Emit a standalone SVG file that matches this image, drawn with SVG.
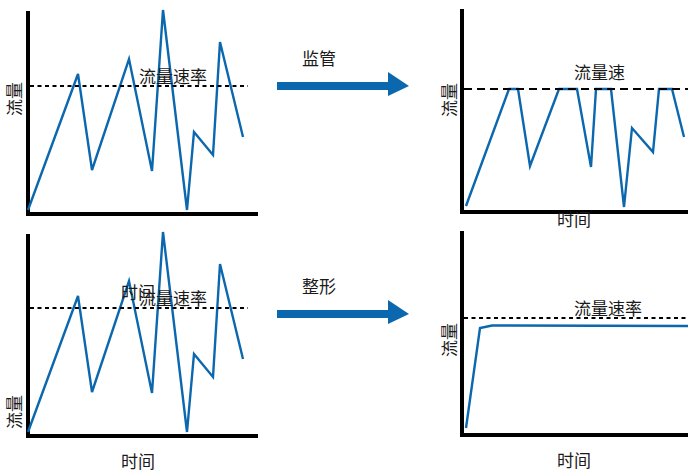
<svg xmlns="http://www.w3.org/2000/svg" width="688" height="473" viewBox="0 0 688 473">
<defs>
<style>
.axis{fill:none;stroke:#000;stroke-width:4;stroke-linecap:square}
.data{fill:none;stroke:#0b67ae;stroke-width:2.4;stroke-linejoin:miter}
.dash{fill:none;stroke:#000;stroke-width:2;stroke-dasharray:4 3.5}
.dash2{fill:none;stroke:#000;stroke-width:2;stroke-dasharray:8 5}
.t{font-family:"Noto Sans CJK SC","Noto Sans",sans-serif;font-size:17px;fill:#1a1a1a}
.arr{fill:#0b67ae}
</style>
</defs>
<rect width="688" height="473" fill="#fff"/>
<g id="chart-top-left">
<path class="axis" d="M28,13 V214 H256"/>
<polyline class="data" points="28,210 78,74 92,170 129,59 152,171 163,10 187,210 194,132 213,155 220,42 243,137"/>
<line class="dash" x1="30" y1="86" x2="248" y2="86"/>
<text class="t" x="139" y="83">流量速率</text>
<text class="t" transform="translate(21,99) rotate(-90)" text-anchor="middle">流量</text>
</g>
<g id="chart-bottom-left">
<path class="axis" d="M28,236 V436 H256"/>
<polyline class="data" points="28,432 78,296 92,392 129,281 152,393 163,232 187,432 194,354 213,377 220,264 243,359"/>
<line class="dash" x1="30" y1="308" x2="248" y2="308"/>
<text class="t" x="121" y="299">时间</text>
<text class="t" x="139" y="305">流量速率</text>
<text class="t" transform="translate(21,412) rotate(-90)" text-anchor="middle">流量</text>
<text class="t" x="121" y="468">时间</text>
</g>
<g id="chart-top-right">
<path class="axis" d="M462,11 V212 H690"/>
<polyline class="data" points="466,206 509,89 518,89 530,166 559,89 577,89 591,167 596,89 611,89 624,207 632,128 653,152 659,89 672,89 684,137"/>
<line class="dash2" x1="464" y1="89" x2="688" y2="89"/>
<text class="t" x="574" y="79">流量速</text>
<text class="t" transform="translate(456,100) rotate(-90)" text-anchor="middle">流量</text>
<text class="t" x="557" y="226">时间</text>
</g>
<g id="chart-bottom-right">
<path class="axis" d="M462,233 V435 H690"/>
<polyline class="data" points="466,428 480,328 492,325.5 688,326"/>
<line class="dash" x1="464" y1="318" x2="686" y2="318"/>
<text class="t" x="574" y="315">流量速率</text>
<text class="t" transform="translate(456,340) rotate(-90)" text-anchor="middle">流量</text>
<text class="t" x="557" y="467">时间</text>
</g>
<g id="connectors">
<g id="arrow-monitor">
<rect class="arr" x="277" y="82" width="112" height="8"/>
<polygon class="arr" points="388,72 409,86 388,96"/>
<text class="t" x="302" y="65" font-size="16">监管</text>
</g>
<g id="arrow-shape">
<rect class="arr" x="277" y="310" width="112" height="8"/>
<polygon class="arr" points="388,300 409,314 388,324"/>
<text class="t" x="302" y="293" font-size="16">整形</text>
</g>
</g>
</svg>
